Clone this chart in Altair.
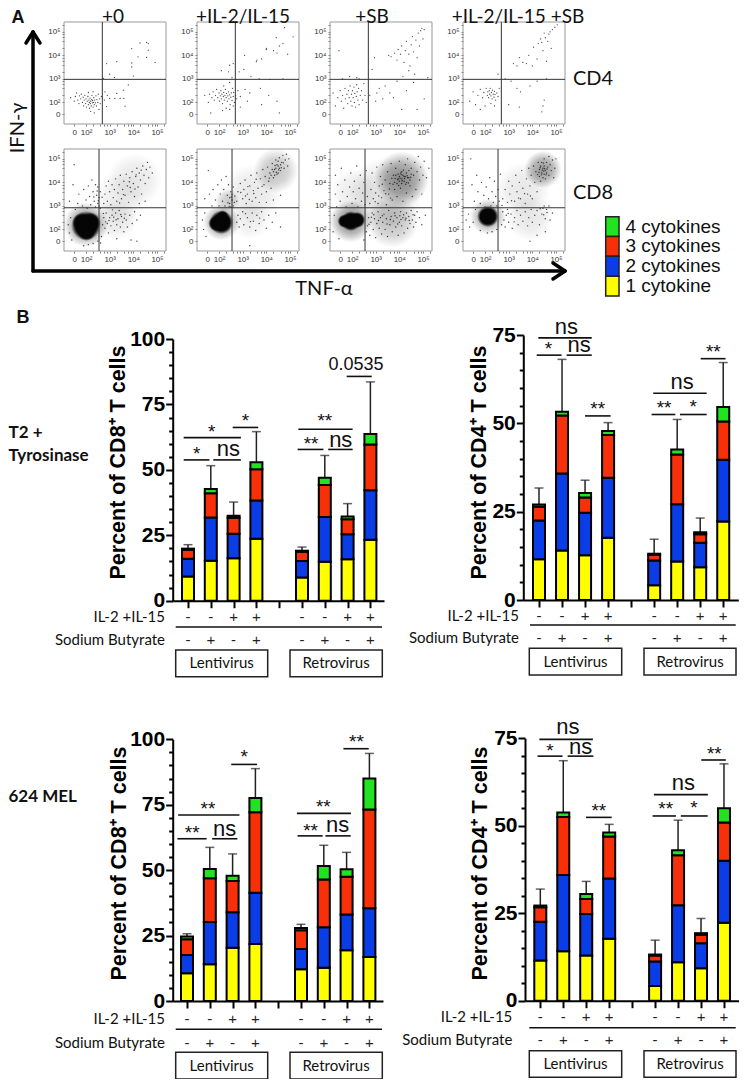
import altair as alt
import pandas as pd

W, H = 731, 1071
SEGMENTS = ["1 cytokine", "2 cytokines", "3 cytokines", "4 cytokines"]
COLORS = ["#ffff00", "#0a3de6", "#f8300a", "#22e322"]
SLOTS = [0, 1, 2, 3, 5, 6, 7, 8]
IL2 = ["-", "-", "+", "+", "-", "-", "+", "+"]
SB = ["-", "+", "-", "+", "-", "+", "-", "+"]

# cumulative tops of the stacked segments, then error-bar top
B1_TOPS = [[9.2, 15.3, 16.2, 23.7, 8.9, 14.9, 15.8, 23.3],
           [16.0, 31.8, 25.6, 38.3, 15.2, 32.0, 25.4, 42.2],
           [19.5, 41.1, 31.7, 50.2, 18.7, 44.2, 31.1, 59.7],
           [19.9, 42.7, 32.5, 52.9, 19.1, 47.0, 32.2, 63.7]]
B1_ERR = [21.4, 51.6, 37.7, 64.6, 20.5, 55.5, 37.1, 83.6]
B2_TOPS = [[11.5, 14.0, 12.7, 17.6, 4.2, 10.9, 9.3, 22.2],
           [22.5, 35.8, 24.7, 34.6, 11.2, 27.1, 16.2, 39.7],
           [26.4, 52.2, 29.0, 46.7, 12.8, 41.2, 18.6, 50.5],
           [27.0, 53.3, 30.3, 47.8, 13.1, 42.6, 19.2, 54.6]]
B2_ERR = [31.7, 68.1, 33.9, 50.2, 17.2, 51.1, 23.2, 67.2]
B3_TOPS = [[10.6, 14.0, 20.3, 21.8, 12.1, 12.7, 19.4, 16.8],
           [17.6, 30.2, 33.9, 41.4, 19.9, 28.2, 33.1, 35.4],
           [23.6, 46.9, 45.9, 72.1, 27.0, 46.4, 47.5, 73.2],
           [24.6, 50.4, 47.9, 77.6, 27.9, 51.6, 50.3, 85.0]]
B3_ERR = [25.7, 58.7, 56.2, 88.8, 29.3, 59.5, 56.8, 94.6]
B4_TOPS = [[11.5, 14.1, 12.9, 17.7, 4.2, 11.0, 9.3, 22.3],
           [22.6, 35.9, 24.8, 34.9, 11.2, 27.3, 16.4, 40.0],
           [26.7, 52.5, 29.1, 46.9, 12.9, 41.6, 18.8, 50.9],
           [27.2, 53.8, 30.5, 48.1, 13.2, 43.0, 19.3, 55.0]]
B4_ERR = [31.9, 68.6, 34.1, 50.4, 17.3, 51.6, 23.5, 67.7]

# significance brackets: slot from, slot to, value
B1_BR = [(-0.19, 0.94, 53.8), (1.11, 2.32, 53.8), (-0.19, 2.32, 62.3), (1.96, 3.08, 66.2),
         (4.81, 5.94, 57.8), (6.15, 7.22, 57.8), (4.84, 7.22, 65.5), (6.96, 8.06, 85.7)]
B1_STARS = [(0.38, 57.5, "*"), (1.04, 66.0, "*"), (2.52, 70.3, "*"), (5.4, 61.5, "**"), (6.0, 70.2, "**")]
B1_NS = [(1.77, 58.0), (6.7, 61.3)]
B2_BR = [(-0.10, 0.98, 69.3), (1.20, 2.29, 69.3), (-0.03, 2.29, 74.2), (2.0, 3.11, 52.1),
         (4.89, 5.92, 52.5), (6.12, 7.28, 52.5), (4.96, 7.28, 58.5), (7.02, 8.10, 68.3)]
B2_STARS = [(0.41, 72.2, "*"), (2.55, 55.2, "**"), (5.43, 55.5, "**"), (6.70, 55.7, "*"), (7.57, 71.2, "**")]
B2_NS = [(1.74, 72.2), (1.19, 77.4), (6.22, 61.6)]
B3_BR = [(-0.42, 0.86, 62.0), (1.10, 2.21, 62.0), (-0.39, 2.30, 71.1), (1.94, 3.07, 90.4),
         (4.85, 5.95, 63.1), (6.07, 7.18, 63.1), (4.82, 7.19, 71.7), (6.86, 7.97, 96.4)]
B3_STARS = [(0.23, 65.7, "**"), (0.92, 75.0, "**"), (2.51, 94.9, "*"), (5.42, 66.6, "**"), (5.98, 75.7, "**"), (7.43, 100.4, "**")]
B3_NS = [(1.65, 65.7), (6.61, 67.3)]
B4_BR = [(-0.12, 0.97, 69.9), (1.19, 2.31, 69.9), (-0.04, 2.29, 74.7), (1.99, 3.11, 52.4),
         (4.89, 5.91, 52.8), (6.12, 7.29, 52.8), (4.95, 7.30, 58.9), (7.01, 8.08, 68.8)]
B4_STARS = [(0.42, 72.5, "*"), (2.55, 55.5, "**"), (5.46, 55.8, "**"), (6.69, 56.1, "*"), (7.58, 71.7, "**")]
B4_NS = [(1.76, 72.6), (1.20, 78.1), (6.23, 62.1)]

# flow-cytometry events, in decades of the display axis
CD4_P1 = [(1.35,2.2),(1.5,2.05),(1.55,2.25),(1.6,2.4),(1.65,2.1),(1.7,1.95),(1.72,2.28),(1.78,2.15),(1.8,2.35),(1.85,2.0),
 (1.88,2.22),(1.9,1.85),(1.92,2.1),(1.95,2.3),(1.98,1.95),(2.0,2.15),(2.02,1.8),(2.05,2.05),(2.08,2.25),(2.1,1.9),
 (2.12,2.1),(2.14,2.0),(2.15,1.75),(2.17,2.18),(2.18,1.95),(2.2,2.05),(2.22,1.85),(2.24,2.12),(2.25,2.3),(2.27,1.98),
 (2.28,2.08),(2.3,1.8),(2.32,2.0),(2.33,2.2),(2.35,1.9),(2.37,2.1),(2.4,1.98),(2.42,2.28),(2.44,1.85),(2.46,2.12),
 (2.5,2.0),(2.52,2.35),(2.55,1.7),(2.58,2.15),(2.6,1.95),(2.65,2.25),(2.2,1.62),(2.35,1.55),(2.1,2.42),(2.3,2.45),
 (2.87,3.65),(3.3,3.73),(3.0,3.2),(3.2,3.06),(2.73,3.02),(3.93,4.29),(4.28,4.53),(4.56,4.55),(4.63,4.5),(4.63,4.22),
 (4.2,3.94),(4.56,3.91),(4.92,3.7),(3.93,3.68),(3.93,3.51),(4.0,3.12),(3.79,2.74),(3.58,2.52),(3.3,2.38),(3.0,2.17),
 (3.6,2.17),(3.44,2.17),(3.65,1.84),(3.22,2.17),(2.8,2.45),(2.87,1.82),(2.78,2.1),(2.9,2.3)]
CD4_P2 = [(1.4,2.3),(1.55,2.0),(1.6,2.35),(1.7,2.2),(1.75,2.45),(1.8,2.1),(1.85,2.3),(1.9,2.55),(1.95,2.2),(2.0,2.4),
 (2.02,2.05),(2.05,2.28),(2.08,2.5),(2.1,2.15),(2.12,2.35),(2.15,1.95),(2.18,2.25),(2.2,2.42),(2.22,2.1),(2.25,2.3),
 (2.27,2.55),(2.3,2.2),(2.32,2.38),(2.35,2.05),(2.37,2.28),(2.4,2.45),(2.42,2.15),(2.45,2.32),(2.47,1.9),(2.5,2.22),
 (2.52,2.4),(2.55,2.08),(2.57,2.6),(2.6,2.25),(2.62,2.42),(2.65,2.0),(2.7,2.3),(2.75,2.15),(2.8,2.5),(2.9,2.25),
 (2.3,1.75),(2.45,1.7),(2.15,1.65),(2.6,1.85),(2.2,2.7),(2.45,2.85),(2.55,3.05),(1.65,1.55),(3.3,2.4),(3.1,2.55),
 (4.77,5.18),(4.42,4.76),(5.13,4.79),(4.7,4.5),(4.0,4.25),(3.58,3.73),(3.08,4.0),(2.6,3.65),(2.45,3.58),(3.6,3.8),
 (3.8,3.85),(4.0,4.3),(4.3,4.2),(4.55,4.4),(4.9,4.05),(4.45,4.1),(3.05,3.4),(2.85,3.3),(2.1,3.35),(2.4,3.3),
 (3.35,3.1),(3.7,3.0),(4.15,2.98),(4.7,3.0),(3.75,2.6),(4.1,2.3),(4.45,2.05),(4.55,1.55),(3.8,1.9),(2.9,1.8),(3.2,2.05)]
CD4_P3 = [(1.2,2.4),(1.3,1.85),(1.4,2.2),(1.5,2.5),(1.55,2.05),(1.6,2.3),(1.65,1.75),(1.7,2.6),(1.72,2.15),(1.78,2.35),
 (1.82,1.95),(1.85,2.5),(1.88,2.2),(1.92,2.7),(1.95,2.05),(1.98,2.35),(2.0,1.85),(2.02,2.5),(2.05,2.2),(2.08,2.65),
 (2.1,2.0),(2.12,2.38),(2.15,1.8),(2.18,2.25),(2.2,2.75),(2.22,2.45),(2.25,2.1),(2.28,2.6),(2.3,1.9),(2.35,2.3),
 (2.4,2.5),(2.45,2.1),(2.5,2.8),(2.55,2.3),(2.6,2.0),(1.9,3.1),(2.3,3.0),(2.2,3.05),(1.6,3.0),(1.45,4.2),
 (2.75,2.3),(2.85,3.4),(2.95,3.9),(3.0,2.05),(3.05,2.4),(3.15,2.6),(3.3,2.15),(3.4,2.7),(3.6,2.4),(3.75,2.2),(3.9,2.9),
 (4.1,1.7),(4.3,2.5),(4.6,2.85),(4.75,1.7),(5.05,2.15),(5.2,3.05),(3.55,4.0),(3.65,3.95),(3.8,4.1),(3.9,3.8),
 (3.95,4.25),(4.05,4.05),(4.1,4.4),(4.2,3.7),(4.25,4.2),(4.3,4.6),(4.4,4.05),(4.45,3.55),(4.5,4.45),(4.55,4.8),
 (4.6,4.15),(4.65,3.2),(4.7,4.65),(4.8,4.95),(4.85,4.4),(4.9,5.05),(5.0,4.7),(5.05,5.1),(4.75,3.9),(4.4,3.35),(4.15,3.1),(4.95,5.15)]
CD4_P4 = [(1.35,2.05),(1.5,2.45),(1.6,1.9),(1.7,2.3),(1.8,2.55),(1.9,2.2),(1.95,2.42),(2.0,1.85),(2.05,2.6),(2.1,2.3),
 (2.12,2.45),(2.15,2.2),(2.18,2.5),(2.2,2.35),(2.22,2.6),(2.25,2.28),(2.27,2.42),(2.3,2.15),(2.32,2.52),(2.35,2.35),
 (2.38,2.22),(2.4,2.47),(2.42,2.33),(2.45,2.1),(2.5,2.4),(2.55,2.25),(2.6,2.6),(2.25,1.95),(2.4,1.85),(1.8,1.7),(2.55,3.2),
 (2.85,3.0),(3.1,2.9),(3.35,2.6),(3.5,2.45),(3.0,1.9),(3.45,1.8),(3.9,2.7),(4.2,2.9),(4.6,3.0),(4.5,2.1),(4.45,1.85),(4.4,1.6),
 (3.2,3.65),(3.35,3.55),(3.45,3.9),(3.6,3.7),(3.75,3.65),(3.85,4.0),(4.0,3.55),(4.05,4.35),(4.2,3.85),(4.25,4.5),(4.35,4.7),
 (4.45,4.2),(4.5,4.95),(4.6,3.75),(4.65,4.6),(4.7,4.9),(4.75,5.0),(4.8,4.3),(4.85,5.1),(4.95,5.2),(5.05,5.3),(4.55,4.75),(4.4,4.55)]
CD8_P1 = [(1.25,2.2),(1.3,1.85),(1.35,2.5),(1.4,1.55),(1.3,3.2),(1.45,3.9),(1.55,2.85),(1.65,3.1),(1.7,3.5),(1.85,3.0),(1.9,3.7),
 (2.0,3.25),(2.05,2.9),(2.1,3.85),(2.15,3.4),(2.2,3.05),(2.25,4.1),(2.3,3.6),(2.35,3.2),(2.4,2.95),(2.45,3.45),(2.5,3.8),(2.5,3.1),
 (2.55,3.0),(2.55,3.35),(2.6,3.6),(2.6,2.9),(2.4,3.9),(1.9,1.3),(2.1,1.35),(2.3,1.4),(2.5,1.5),(2.65,1.7),(2.7,2.2),(2.75,2.5),
 (2.8,2.05),(2.85,2.7),(2.9,2.25),(2.95,1.85),(3.0,2.5),(3.05,2.15),(3.1,2.6),(3.15,2.35),(3.2,1.95),(3.25,2.7),(3.3,2.2),(3.35,2.45),
 (3.4,2.8),(3.45,2.1),(3.5,2.55),(3.55,2.3),(3.6,1.9),(3.65,2.65),(3.7,2.4),(3.75,2.1),(3.85,2.6),(3.95,2.25),(4.05,2.75),(4.15,2.4),(4.3,2.6),
 (2.75,3.1),(2.8,3.5),(2.85,3.85),(2.9,3.2),(2.95,4.05),(3.0,3.6),(3.05,3.05),(3.1,3.9),(3.15,3.35),(3.2,3.7),(3.25,4.15),(3.3,3.2),
 (3.35,3.55),(3.4,3.9),(3.45,4.3),(3.5,3.3),(3.55,3.7),(3.6,4.05),(3.65,3.45),(3.7,4.35),(3.75,3.85),(3.8,3.15),(3.85,4.2),(3.9,3.6),
 (3.95,4.45),(4.0,3.95),(4.05,3.4),(4.1,4.25),(4.15,4.6),(4.2,3.8),(4.25,4.4),(4.3,4.1),(4.35,3.5),(4.4,4.7),(4.45,4.3),(4.5,3.95),
 (4.55,4.55),(4.6,4.85),(4.65,4.2),(4.7,4.65),(4.8,4.4),(4.25,3.1),(4.5,3.2),(3.9,1.55),(4.15,1.5),(3.3,1.6),(1.5,4.75),
 (4.12,4.32),(3.83,4.03),(4.33,4.52),(3.58,3.48),(4.07,3.72),(3.42,3.12),(3.12,2.83),(2.68,3.37),(2.47,3.63),(2.33,3.38),(2.52,3.22),(3.27,2.41),(3.47,2.63),(2.97,2.38),(2.83,2.32),(2.62,1.42),(2.73,2.68),(3.62,2.47),(3.17,2.52),(3.87,3.78)]
CD8_P2 = [(1.3,2.4),(1.35,2.0),(1.4,2.7),(1.45,1.7),(1.4,3.3),(1.55,4.5),(1.6,3.5),(1.7,3.0),(1.75,3.7),(1.85,3.25),(1.95,3.9),(2.0,3.0),
 (2.05,3.5),(2.1,4.1),(2.15,3.2),(2.2,3.7),(2.25,3.0),(2.3,4.25),(2.35,3.45),(2.4,3.9),(2.45,3.1),(2.5,3.6),(2.55,3.25),(2.6,3.0),(2.6,3.8),(2.5,2.95),
 (2.45,3.35),(2.55,3.5),(2.65,3.15),(2.75,2.3),(2.8,2.6),(2.85,2.1),(2.9,2.45),(3.0,2.75),(3.05,2.2),(3.2,2.5),(3.3,2.1),(3.4,2.7),(3.45,2.35),(3.55,1.95),
 (3.6,2.6),(3.7,2.25),(3.8,2.75),(3.9,2.4),(4.0,2.05),(4.1,2.6),(4.25,2.3),(4.4,2.7),(4.6,2.1),(3.3,1.3),
 (2.75,3.2),(2.8,3.6),(2.9,3.95),(3.0,3.3),(3.05,3.7),(3.1,4.1),(3.15,3.1),(3.2,3.5),(3.3,3.85),(3.35,4.3),(3.4,3.2),(3.45,3.65),(3.5,4.0),(3.55,3.35),
 (3.6,4.4),(3.65,3.75),(3.7,3.15),(3.75,4.15),(3.8,3.5),(3.85,4.55),(3.9,3.9),(3.95,4.25),(4.0,3.6),(4.05,4.65),(4.1,4.05),(4.15,4.4),(4.2,3.75),(4.25,4.8),
 (4.3,4.2),(4.35,4.55),(4.4,4.95),(4.45,4.35),(4.5,4.7),(4.55,5.05),(4.6,4.5),(4.65,4.85),(4.7,5.15),(4.75,4.6),(4.8,4.95),(4.85,5.2),(4.9,4.7),(4.95,5.0),
 (4.3,4.45),(4.4,4.6),(4.45,4.75),(4.5,4.4),(4.35,4.3),(4.55,4.6),(4.6,4.75),(4.25,4.55),(4.2,4.3),(4.5,4.9),(4.0,3.15),(4.3,3.25),(4.6,3.45),
 (3.82,3.83),(3.47,3.53),(3.12,3.42),(4.13,4.18),(4.37,4.72),(4.63,4.62),(4.52,4.53),(4.42,4.43),(4.72,4.83),(3.28,3.27),(2.67,3.42),(2.38,3.13),(2.43,2.98),(2.52,3.38),(3.57,4.13),(3.22,3.82),(2.92,3.57),(3.72,2.48),(3.33,2.33),(3.12,2.67)]
CD8_P3 = [(1.2,1.9),(1.25,2.6),(1.3,3.5),(1.3,4.3),(1.35,2.95),(1.4,3.9),(1.45,1.6),(1.5,3.2),(1.55,4.6),(1.6,3.6),(1.7,4.1),(1.75,2.95),(1.8,3.4),(1.9,3.8),
 (1.95,4.4),(2.0,3.1),(2.05,3.6),(2.1,4.05),(2.15,3.3),(2.2,4.7),(2.25,2.95),(2.3,3.75),(2.35,4.3),(2.4,3.2),(2.45,3.55),(2.5,4.0),(2.55,3.05),(2.6,4.5),(2.65,3.4),
 (2.5,1.55),(2.6,1.9),(2.65,2.15),(2.7,2.5),(2.75,1.75),(2.8,2.3),(2.85,2.7),(2.9,2.0),(2.95,2.45),(3.0,1.65),(3.05,2.25),(3.1,2.75),(3.15,2.05),(3.2,2.5),(3.25,1.8),
 (3.3,2.3),(3.35,2.65),(3.4,2.0),(3.45,2.45),(3.5,1.7),(3.55,2.8),(3.6,2.2),(3.65,2.55),(3.7,1.9),(3.75,2.35),(3.8,2.7),(3.85,2.1),(3.9,2.5),(3.95,1.75),(4.0,2.3),(4.05,2.75),
 (4.1,2.15),(4.15,2.5),(4.2,1.85),(4.25,2.4),(4.3,2.7),(4.35,2.05),(4.4,2.55),(4.45,2.25),(4.5,2.8),(4.55,2.4),(4.6,2.1),(4.65,2.6),(4.7,2.3),(4.75,2.75),(4.85,2.5),(4.95,2.2),(5.1,2.6),
 (2.75,3.1),(2.8,3.7),(2.85,4.4),(2.9,3.3),(2.95,4.0),(3.0,3.55),(3.05,4.65),(3.1,3.1),(3.15,3.85),(3.2,4.25),(3.25,3.35),(3.3,4.75),(3.35,3.65),(3.4,4.1),(3.45,3.05),
 (3.5,4.45),(3.55,3.5),(3.6,3.95),(3.65,4.8),(3.7,3.25),(3.75,4.3),(3.8,3.7),(3.85,4.6),(3.9,3.4),(3.95,4.15),(4.0,4.9),(4.05,3.75),(4.1,4.45),(4.15,3.2),(4.2,4.25),(4.25,4.75),
 (4.3,3.55),(4.35,5.0),(4.4,4.2),(4.45,3.85),(4.5,4.6),(4.55,3.4),(4.6,4.3),(4.65,4.85),(4.7,3.7),(4.75,4.45),(4.8,5.1),(4.85,4.1),(4.9,4.65),(4.95,3.5),(5.0,4.3),(5.05,4.9),(5.15,4.2),(5.25,4.6),
 (3.8,4.0),(3.85,4.3),(3.9,3.95),(3.95,4.35),(4.0,4.05),(4.0,4.25),(4.05,4.4),(4.1,3.95),(4.1,4.15),(4.15,4.3),(4.2,4.05),(4.25,4.25),(4.3,4.0),(4.3,4.4),(4.35,4.2),(4.4,4.5),(4.45,4.1),(4.5,4.35),
 (3.82,4.17),(3.93,4.12),(4.03,4.18),(4.12,4.07),(4.22,4.17),(4.27,3.92),(4.33,4.28),(4.08,4.33),(3.97,3.87),(3.73,3.92),(4.17,4.52),(4.38,3.97),(4.48,4.22),(3.68,4.17),(3.58,3.72),(3.42,3.52),(3.28,3.92),(3.13,3.42),(2.98,3.18),(3.63,3.33),
 (4.07,2.42),(3.93,2.23),(3.82,2.58),(4.18,2.62),(3.62,2.42),(4.02,2.58),(4.28,2.47),(3.48,2.23),(3.28,2.58),(3.12,2.38),(2.92,2.62),(2.72,2.22),(2.82,2.52),(4.42,2.38),(4.58,2.62)]
CD8_P4 = [(1.2,2.4),(1.3,2.65),(1.35,2.1),(1.4,5.0),(1.45,3.9),(1.5,2.3),(1.55,3.2),(1.6,2.85),(1.65,4.3),(1.7,3.6),(1.8,3.1),(1.85,4.0),(1.95,3.45),(2.0,2.95),(2.05,3.8),(2.15,3.3),
 (2.2,4.2),(2.25,3.0),(2.3,3.6),(2.35,3.15),(2.4,4.05),(2.45,3.4),(2.5,3.0),(2.55,3.7),(2.6,3.2),(2.65,4.35),(2.1,1.85),(2.3,1.9),(2.5,2.0),(1.8,1.95),(2.7,2.2),(2.75,2.75),(2.8,2.4),
 (2.85,2.1),(2.9,2.6),(2.95,2.85),(3.0,2.3),(3.1,2.65),(3.15,2.05),(3.25,2.5),(3.35,2.8),(3.4,2.2),(3.5,2.6),(3.6,2.35),(3.7,2.75),(3.8,2.15),(3.85,2.5),(3.95,2.85),(4.0,2.3),(4.1,2.6),
 (4.2,2.8),(4.3,2.2),(4.4,2.65),(4.45,2.9),(4.5,3.0),(4.55,2.45),(4.6,2.85),(4.7,3.0),(4.75,2.4),(4.85,2.7),(4.55,1.9),(4.2,1.75),(3.9,1.5),
 (2.75,3.3),(2.85,3.7),(2.95,3.15),(3.0,4.05),(3.05,3.5),(3.15,3.85),(3.25,3.2),(3.3,4.3),(3.35,3.6),(3.45,4.0),(3.5,3.3),(3.55,4.5),(3.6,3.75),(3.7,3.1),(3.75,4.15),(3.8,3.5),(3.85,4.6),
 (3.9,3.85),(3.95,4.3),(4.0,3.3),(4.05,4.7),(4.1,4.0),(4.15,4.45),(4.2,3.6),(4.25,4.85),(4.3,4.25),(4.3,4.55),(4.35,4.7),(4.35,4.05),(4.4,4.4),(4.4,4.85),(4.45,4.2),(4.45,4.6),(4.5,5.0),
 (4.5,4.35),(4.5,4.7),(4.55,4.5),(4.55,4.15),(4.6,4.85),(4.6,4.4),(4.65,4.65),(4.7,5.1),(4.7,4.3),(4.75,4.75),(4.8,4.5),(4.85,4.95),(4.9,4.2),(4.95,4.6),(5.0,5.0),
 (4.38,4.32),(4.42,4.52),(4.48,4.48),(4.33,4.62),(4.52,4.58),(4.58,4.32),(4.28,4.42),(4.22,4.33),(4.62,4.57),(4.47,4.82),(3.42,3.33),(3.12,3.22),(2.72,3.02),(3.67,3.52),(3.92,3.42),(4.62,2.72),(4.48,2.62),(4.33,2.88),(3.23,2.32),(2.98,2.68)]
# dense centres: x, y, size (soft edged)
CD8_CORE = [[(2.0, 2.15, 860), (1.82, 2.3, 360), (2.2, 2.3, 400), (2.02, 1.9, 320)],
            [(2.1, 2.3, 560), (2.15, 2.55, 140), (1.88, 2.25, 240)],
            [(1.68, 2.35, 180), (1.95, 2.35, 400), (2.22, 2.4, 260)],
            [(2.12, 2.55, 460)]]
# faint grey clouds: x, y, size, opacity
CD8_CLOUD = [[(2.0, 2.2, 2000, .55), (4.05, 4.1, 3000, .12), (3.4, 3.3, 2800, .09), (3.3, 2.45, 1800, .12)],
             [(2.1, 2.3, 1300, .5), (4.4, 4.5, 2000, .3), (3.4, 3.5, 3600, .12), (3.3, 2.4, 1600, .09), (2.35, 3.2, 600, .25)],
             [(1.95, 2.35, 1800, .55), (4.1, 4.15, 3000, .55), (3.4, 3.5, 5500, .16), (3.7, 2.35, 2800, .3), (2.1, 3.6, 2200, .1)],
             [(2.12, 2.55, 1300, .45), (4.45, 4.55, 1400, .5), (3.6, 3.7, 3000, .12), (3.9, 2.5, 2200, .12)]]
TICKS = [1.5, 2, 2.3, 2.6, 2.78, 2.9, 3, 3.3, 3.6, 3.78, 3.9, 4, 4.3, 4.6, 4.78, 4.9, 5, 5.3]
LABEL_EXPR = "datum.value==1.5?'0':datum.value==2?'10²':datum.value==3?'10³':datum.value==4?'10⁴':datum.value==5?'10⁵':''"
XR, YR = [1.07, 5.38], [1.08, 5.42]


def soft(stops):
    return {"gradient": "radial", "x1": .5, "y1": .5, "r1": 0, "x2": .5, "y2": .5, "r2": .5,
            "stops": [{"offset": o, "color": c} for o, c in stops]}


HAZE = soft([(0, "rgba(20,20,20,0.85)"), (.55, "rgba(20,20,20,0.6)"), (1, "rgba(20,20,20,0)")])
CORE = soft([(0, "rgba(5,5,5,1)"), (.72, "rgba(5,5,5,1)"), (1, "rgba(5,5,5,0)")])

layers = []


def P(v):
    return v - 8


def flow_panel(col, row, pts, core, cloud, gx, gy, dot):
    left = [64, 197, 330, 463][col]
    top, bot = [(22, 124), (149, 251)][row]
    xs = alt.Scale(domain=XR, range=[P(left), P(left + 102)])
    ys = alt.Scale(domain=YR, range=[P(bot), P(top)])
    common = dict(domain=False, grid=False, title=None, values=TICKS, labelExpr=LABEL_EXPR, tickSize=2,
                  labelFontSize=8, labelColor="#333", tickColor="#444", labelPadding=2,
                  labelOverlap=False, labelFont="Liberation Sans", tickWidth=0.7)
    frm = pd.DataFrame({"a": [XR[0]], "b": [XR[1]], "c": [YR[0]], "d": [YR[1]]})
    layers.append(alt.Chart(frm).mark_rect(fillOpacity=0, stroke="#999", strokeWidth=1).encode(
        x=alt.X("a:Q", scale=xs, axis=alt.Axis(orient="bottom", offset=-(H - P(bot)), **common)),
        x2="b:Q",
        y=alt.Y("c:Q", scale=ys, axis=alt.Axis(orient="left", offset=-P(left), **common)),
        y2="d:Q"))
    if cloud:
        d = pd.DataFrame(cloud, columns=["x", "y", "s", "o"])
        layers.append(alt.Chart(d).mark_circle(fill=HAZE).encode(
            x=alt.X("x:Q", scale=xs, axis=None), y=alt.Y("y:Q", scale=ys, axis=None),
            size=alt.Size("s:Q", scale=None, legend=None), opacity=alt.Opacity("o:Q", scale=None, legend=None)))
    if core:
        d = pd.DataFrame(core, columns=["x", "y", "s"])
        layers.append(alt.Chart(d).mark_circle(fill=CORE, opacity=1).encode(
            x=alt.X("x:Q", scale=xs, axis=None), y=alt.Y("y:Q", scale=ys, axis=None),
            size=alt.Size("s:Q", scale=None, legend=None)))
    d = pd.DataFrame(pts, columns=["x", "y"])
    layers.append(alt.Chart(d).mark_circle(color="#111", size=dot, opacity=0.8).encode(
        x=alt.X("x:Q", scale=xs, axis=None), y=alt.Y("y:Q", scale=ys, axis=None)))
    g = pd.DataFrame({"gx": [gx], "gy": [gy], "a": [XR[0]], "b": [XR[1]], "c": [YR[0]], "d": [YR[1]]})
    layers.append(alt.Chart(g).mark_rule(color="#333", strokeWidth=1).encode(
        x=alt.X("gx:Q", scale=xs, axis=None), y=alt.Y("c:Q", scale=ys, axis=None), y2="d:Q"))
    layers.append(alt.Chart(g).mark_rule(color="#333", strokeWidth=1).encode(
        x=alt.X("a:Q", scale=xs, axis=None), x2="b:Q", y=alt.Y("gy:Q", scale=ys, axis=None)))


for i, p in enumerate([CD4_P1, CD4_P2, CD4_P3, CD4_P4]):
    flow_panel(i, 0, p, None, None, 2.69, 2.98, 1.6)
for i, p in enumerate([CD8_P1, CD8_P2, CD8_P3, CD8_P4]):
    flow_panel(i, 1, p, CD8_CORE[i], CD8_CLOUD[i], 2.55, 2.92, 2.0)


def bar_panel(tops, err, br, stars, ns, ymax, axis_x, y0, ytop, slot0, step, xright, title, tx, ty, majors, minors):
    xlo = (axis_x - slot0) / step
    xhi = (xright - slot0) / step
    xs = alt.Scale(domain=[xlo, xhi], range=[P(axis_x), P(xright)], padding=0)
    ys = alt.Scale(domain=[0, ymax], range=[P(y0), P(ytop)])
    layers.append(alt.Chart(pd.DataFrame({"v": minors})).mark_point(opacity=0).encode(
        y=alt.Y("v:Q", scale=ys, axis=alt.Axis(orient="left", offset=-P(axis_x), values=minors, labels=False,
                tickSize=4, tickWidth=2, tickColor="#000", domain=False, grid=False, title=None)),
        x=alt.value(P(axis_x))))
    rows = []
    for s in range(4):
        for k, slot in enumerate(SLOTS):
            base = tops[s - 1][k] if s else 0
            rows.append({"slot": slot, "base": base, "top": tops[s][k], "seg": SEGMENTS[s]})
    bars = pd.DataFrame(rows)
    eb = pd.DataFrame({"slot": SLOTS, "top": tops[3], "err": err})
    xax = alt.Axis(orient="bottom", offset=-(H - P(y0)), values=list(range(9)), labels=False, tickSize=7, tickWidth=2,
                   tickColor="#000", domainColor="#000", domainWidth=2, grid=False, title=None)
    yax = alt.Axis(orient="left", offset=-P(axis_x), values=majors, tickSize=7, tickWidth=2, tickColor="#000",
                   domainColor="#000", domainWidth=2, grid=False, title=title, titleFontSize=21.5,
                   titleFontWeight="bold", titleFont="Liberation Sans", titleColor="#000", titleX=tx, titleY=P(ty),
                   titleAngle=270, titleBaseline="alphabetic", labelFont="Liberation Sans", labelFontSize=21, labelFontWeight="bold",
                   labelColor="#000", labelPadding=1, labelOverlap=False)
    layers.append(alt.Chart(eb).mark_rule(color="#222", strokeWidth=1.5).encode(
        x=alt.X("slot:Q", scale=xs, axis=xax), y=alt.Y("top:Q", scale=ys, axis=yax), y2="err:Q"))
    layers.append(alt.Chart(eb).mark_tick(orient="horizontal", color="#222", size=9, thickness=1.5).encode(
        x=alt.X("slot:Q", scale=xs, axis=None), y=alt.Y("err:Q", scale=ys, axis=None)))
    layers.append(alt.Chart(bars).mark_bar(orient="vertical", width=12, stroke="#000", strokeWidth=2).encode(
        x=alt.X("slot:Q", scale=xs, axis=None), y=alt.Y("top:Q", scale=ys, axis=None), y2="base:Q",
        color=alt.Color("seg:N", scale=alt.Scale(domain=SEGMENTS, range=COLORS), legend=None)))
    b = pd.DataFrame(br, columns=["a", "b", "v"])
    layers.append(alt.Chart(b).mark_rule(color="#111", strokeWidth=1.6).encode(
        x=alt.X("a:Q", scale=xs, axis=None), x2="b:Q", y=alt.Y("v:Q", scale=ys, axis=None)))
    st = pd.DataFrame(stars, columns=["x", "v", "t"])
    layers.append(alt.Chart(st).mark_text(font="Liberation Sans", fontSize=19, dy=4, color="#111").encode(
        x=alt.X("x:Q", scale=xs, axis=None), y=alt.Y("v:Q", scale=ys, axis=None), text="t:N"))
    n = pd.DataFrame(ns, columns=["x", "v"]).assign(t="ns")
    layers.append(alt.Chart(n).mark_text(font="Liberation Sans", fontSize=22, dy=0, color="#111").encode(
        x=alt.X("x:Q", scale=xs, axis=None), y=alt.Y("v:Q", scale=ys, axis=None), text="t:N"))
    signs = pd.DataFrame({"slot": SLOTS, "il2": IL2, "sb": SB})
    return xs, ys, signs


MAJ100, MIN100 = [0, 25, 50, 75, 100], [5, 10, 15, 20, 30, 35, 40, 45, 55, 60, 65, 70, 80, 85, 90, 95]
MAJ75, MIN75 = [0, 25, 50, 75], [5, 10, 15, 20, 30, 35, 40, 45, 55, 60, 65, 70]
T8, T4 = "Percent of CD8⁺ T cells", "Percent of CD4⁺ T cells"

geo = [
    bar_panel(B1_TOPS, B1_ERR, B1_BR, B1_STARS, B1_NS, 100, 172.7, 600.7, 339, 188, 22.8, 384, T8, -48.4, 462, MAJ100, MIN100),
    bar_panel(B2_TOPS, B2_ERR, B2_BR, B2_STARS, B2_NS, 75, 523.3, 600, 335, 539, 23.03, 738.3, T4, -38.3, 462, MAJ75, MIN75),
    bar_panel(B3_TOPS, B3_ERR, B3_BR, B3_STARS, B3_NS, 100, 172.7, 1001, 739.3, 187, 22.8, 383, T8, -47.7, 863, MAJ100, MIN100),
    bar_panel(B4_TOPS, B4_ERR, B4_BR, B4_STARS, B4_NS, 75, 525, 1000.7, 738.3, 540.3, 22.96, 739.3, T4, -38.3, 863, MAJ75, MIN75),
]

# +/- rows per panel: y of IL-2 row, y of butyrate row
ROW_Y = [(617, 640), (616, 638), (1019, 1043), (1017, 1040.3)]
for (xs, ys, signs), (r1, r2) in zip(geo, ROW_Y):
    for col, y in (("il2", r1), ("sb", r2)):
        layers.append(alt.Chart(signs).mark_text(font="Liberation Sans", fontSize=15, color="#222", baseline="middle").encode(
            x=alt.X("slot:Q", scale=xs, axis=None), y=alt.value(P(y)), text=f"{col}:N"))

# page furniture, in page pixels
BOXES = [(175.7, 267.7, 650, 676.7), (290, 382.3, 650, 676.7), (529.3, 621.7, 648.3, 675), (644, 736, 648.3, 675),
         (175.7, 267.7, 1052.3, 1079), (290, 382.3, 1052.3, 1079), (529.3, 621.7, 1050.7, 1077.3), (644, 736, 1050.7, 1077.3)]
RULES = [(175.7, 382, 627), (530, 735.7, 625), (175.7, 382, 1029.3), (529.3, 735.7, 1027.7)]
BOX_TEXT = [("Lentivirus", 221.7, 663.3), ("Retrovirus", 336, 663.3), ("Lentivirus", 575.5, 661.6), ("Retrovirus", 690, 661.6),
            ("Lentivirus", 221.7, 1065.6), ("Retrovirus", 336, 1065.6), ("Lentivirus", 575.5, 1064), ("Retrovirus", 690, 1064)]
ROW_TEXT = [("IL-2 +IL-15", 165, 617), ("Sodium Butyrate", 165, 640), ("IL-2 +IL-15", 519, 616), ("Sodium Butyrate", 519, 638),
            ("IL-2 +IL-15", 165, 1019), ("Sodium Butyrate", 165, 1043), ("IL-2 +IL-15", 512.3, 1017), ("Sodium Butyrate", 512.3, 1040.3)]
HEAD_TEXT = [("+0", 113, 17), ("+IL-2/IL-15", 243, 17), ("+SB", 372, 17), ("+IL-2/IL-15 +SB", 518, 17)]
AXIS_TEXT = [("TNF-α", 324, 289)]
SIDE_TEXT = [("CD4", 573, 79), ("CD8", 573, 193)]
LEFT_BOLD = [("T2 +", 8.5, 433), ("Tyrosinase", 8.5, 455.7), ("624 MEL", 8.5, 797)]
LETTERS = [("A", 18, 18), ("B", 23, 318)]
ARROWS = [(33, 33, 271, 32), (33, 565, 271, 271), (33, 26, 32, 43), (33, 40, 32, 43), (565, 553, 271, 263), (565, 553, 271, 279)]


def frame(rows, cols):
    d = pd.DataFrame(rows, columns=cols)
    for c in cols:
        if c[0] in "xy":
            d[c] = d[c] - 8
    return d


def px(f):
    return alt.X(f, scale=None, axis=None)


def py(f):
    return alt.Y(f, scale=None, axis=None)


layers.append(alt.Chart(frame(ARROWS, ["x", "x2", "y", "y2"])).mark_rule(color="#000", strokeWidth=3.5, strokeCap="round").encode(
    x=px("x:Q"), x2="x2:Q", y=py("y:Q"), y2="y2:Q"))
layers.append(alt.Chart(frame(RULES, ["x", "x2", "y"])).mark_rule(color="#111", strokeWidth=1.5).encode(
    x=px("x:Q"), x2="x2:Q", y=py("y:Q")))
layers.append(alt.Chart(frame(BOXES, ["x", "x2", "y", "y2"])).mark_rect(fill="#fff", stroke="#222", strokeWidth=1.5).encode(
    x=px("x:Q"), x2="x2:Q", y=py("y:Q"), y2="y2:Q"))


def text(rows, **mark):
    return alt.Chart(frame(rows, ["t", "x", "y"])).mark_text(baseline="middle", color="#111", **mark).encode(
        x=px("x:Q"), y=py("y:Q"), text="t:N")


layers.append(text(BOX_TEXT, font="Lato", fontSize=15))
layers.append(text(ROW_TEXT, font="Lato", fontSize=15, align="right"))
layers.append(text(HEAD_TEXT, font="Lato", fontSize=19))
layers.append(text(AXIS_TEXT, font="Lato", fontSize=20))
layers.append(text(SIDE_TEXT, font="Lato", fontSize=20, align="left"))
layers.append(text(LEFT_BOLD, font="Lato", fontSize=17, fontWeight="bold", align="left"))
layers.append(text(LETTERS, font="Liberation Sans", fontSize=18, fontWeight="bold"))
layers.append(text([("IFN-γ", 17.5, 128)], font="Lato", fontSize=20, angle=270))
layers.append(text([("0.0535", 356, 365)], font="Liberation Sans", fontSize=18))

# legend
LEG_ORDER = ["4 cytokines", "3 cytokines", "2 cytokines", "1 cytokine"]
LEG_COLORS = ["#22e322", "#f8300a", "#0a3de6", "#ffff00"]
leg = pd.DataFrame({"seg": LEG_ORDER, "col": LEG_COLORS, "x": [597.7] * 4, "x2": [611] * 4, "tx": [617.5] * 4})
legy = alt.Scale(domain=LEG_ORDER, range=[P(216.7), P(296)], paddingInner=0, paddingOuter=0)
layers.append(alt.Chart(leg).mark_rect(stroke="#222", strokeWidth=1.5).encode(
    x=px("x:Q"), x2="x2:Q", y=alt.Y("seg:N", scale=legy, axis=None),
    color=alt.Color("col:N", scale=None, legend=None)))
layers.append(alt.Chart(leg).mark_text(font="Liberation Sans", fontSize=19, align="left", baseline="middle", color="#111").encode(
    x=px("tx:Q"), y=alt.Y("seg:N", scale=legy, axis=None), text="seg:N"))

chart = alt.layer(*layers).resolve_scale(x="independent", y="independent", color="independent", size="independent", opacity="independent").properties(
    width=W, height=H, padding=0, autosize=alt.AutoSizeParams(type="none")
).configure_view(stroke=None)

chart.save("out.html", embed_options={"renderer": "svg", "actions": False})
